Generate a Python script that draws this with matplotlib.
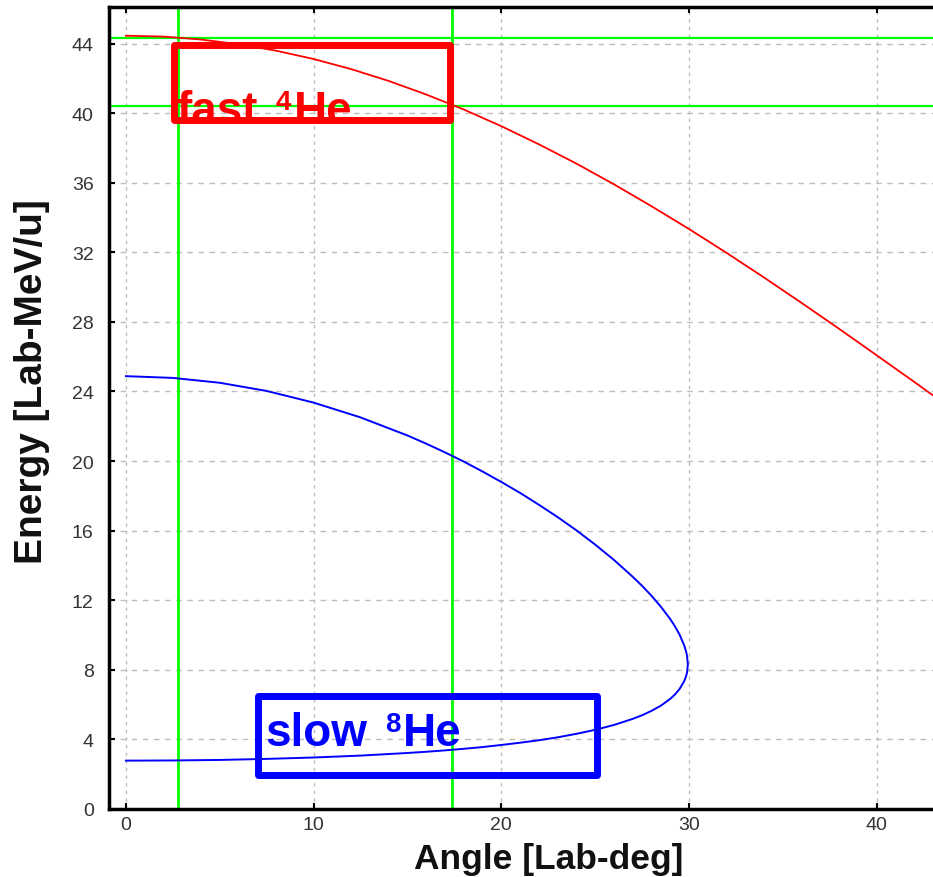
import numpy as np
import matplotlib.pyplot as plt
from matplotlib.patches import Rectangle

plt.rcParams["font.family"] = ["Liberation Sans", "DejaVu Sans"]

# fast 4He branch (lab angle in deg, energy in MeV/u)
he4_angle = [0, 2, 4, 6, 8, 10, 12, 14, 16, 18, 20, 22, 24, 26, 28, 30,
             32, 34, 36, 38, 40, 42, 44]
he4_energy = [44.45, 44.40, 44.23, 43.96, 43.59, 43.11, 42.53, 41.85, 41.07,
              40.21, 39.25, 38.21, 37.10, 35.91, 34.65, 33.34, 31.97, 30.55,
              29.09, 27.60, 26.08, 24.55, 23.00]

# slow 8He: two-valued branch up to the kinematic limit angle
he8_angle = [0, 2.5, 5, 7.5, 10, 12.5, 15, 16, 17, 18, 19, 20, 21, 22, 23,
             24, 25, 26, 27, 27.5, 28, 28.5, 29, 29.25, 29.5, 29.75, 29.85,
             29.9, 29.94]
he8_upper = [24.88, 24.78, 24.50, 24.03, 23.36, 22.51, 21.47, 21.00, 20.50,
             19.97, 19.40, 18.80, 18.17, 17.49, 16.78, 16.02, 15.20, 14.32,
             13.35, 12.83, 12.26, 11.63, 10.92, 10.50, 10.02, 9.39, 9.04,
             8.77, 8.32]
he8_lower = [2.78, 2.79, 2.82, 2.88, 2.96, 3.07, 3.22, 3.29, 3.37, 3.46, 3.56,
             3.68, 3.81, 3.95, 4.12, 4.32, 4.55, 4.83, 5.18, 5.39, 5.64, 5.94,
             6.33, 6.58, 6.90, 7.36, 7.65, 7.88, 8.32]

# acceptance window
angle_cuts = [2.79, 17.4]
energy_cuts = [44.33, 40.42]

x_ticks = [0, 10, 20, 30, 40]
y_ticks = list(range(0, 45, 4))

fig = plt.figure(figsize=(9.33, 8.78), dpi=100)
ax = fig.add_axes([109 / 933, 68 / 878, 824 / 933, 802 / 878])
renderer = fig.canvas.get_renderer()

he8_x = np.concatenate([he8_angle, he8_angle[-2::-1]])
he8_y = np.concatenate([he8_upper, he8_lower[-2::-1]])

ax.plot(he4_angle, he4_energy, color="#ff0000", lw=1.3, zorder=3)
ax.plot(he8_x, he8_y, color="#0000ff", lw=1.4, zorder=3)

for a in angle_cuts:
    ax.axvline(a, color="#00ff00", lw=2, zorder=2)
for e in energy_cuts:
    ax.axhline(e, color="#00ff00", lw=1.6, zorder=2)


def iso_label(x, y, word, mass, symbol, color):
    # word, raised mass number, element symbol, all on one baseline
    kw = dict(color=color, fontweight="bold", va="baseline", ha="left", zorder=5)
    t = ax.text(x, y, word, fontsize=33, **kw)
    w1 = t.get_window_extent(renderer).width * 72 / fig.dpi
    dx = w1 + 0.39 * 33
    s = ax.annotate(mass, (x, y), xytext=(dx, 10), textcoords="offset points",
                    fontsize=20, **kw)
    w2 = s.get_window_extent(renderer).width * 72 / fig.dpi
    ax.annotate(symbol, (x, y), xytext=(dx + w2 + 1.5, 0),
                textcoords="offset points", fontsize=33, **kw)


# highlight boxes with labels
ax.add_patch(Rectangle((2.56, 39.60), 17.29 - 2.56, 43.89 - 39.60, fill=False,
                       ec="#ff0000", lw=5, joinstyle="round", zorder=4))
ax.add_patch(Rectangle((7.06, 1.95), 25.11 - 7.06, 6.49 - 1.95, fill=False,
                       ec="#0000ff", lw=5, joinstyle="round", zorder=4))
iso_label(2.70, 39.45, "fast", "4", "He", "#ff0000")
iso_label(7.42, 3.66, "slow", "8", "He", "#0000ff")

ax.set_xlim(-0.9, 43)
ax.set_ylim(0, 46.1)
ax.set_xticks(x_ticks)
ax.set_yticks(y_ticks)

ax.grid(True, axis="x", color="#bdbdbd", lw=1, ls=(0, (2.5, 3)))
ax.grid(True, axis="y", color="#bdbdbd", lw=1, ls=(0, (4, 4)))
ax.set_axisbelow(True)

ax.tick_params(direction="in", length=4, width=1.5, top=True, right=False,
               labelsize=14, labelcolor="#333333", color="black")
ax.tick_params(axis="y", pad=11)
ax.tick_params(axis="x", pad=5)

for side in ["left", "bottom", "top"]:
    ax.spines[side].set_linewidth(2.5)
    ax.spines[side].set_color("black")
ax.spines["right"].set_visible(False)

ax.set_xlabel("Angle [Lab-deg]", fontsize=25.5, fontweight="bold", color="#111111")
ax.set_ylabel("Energy [Lab-MeV/u]", fontsize=28, fontweight="bold", color="#111111")
ax.xaxis.set_label_coords(0.534, -0.041)
ax.yaxis.set_label_coords(-0.0716, 0.534)

fig.savefig("out.png", dpi=100)
